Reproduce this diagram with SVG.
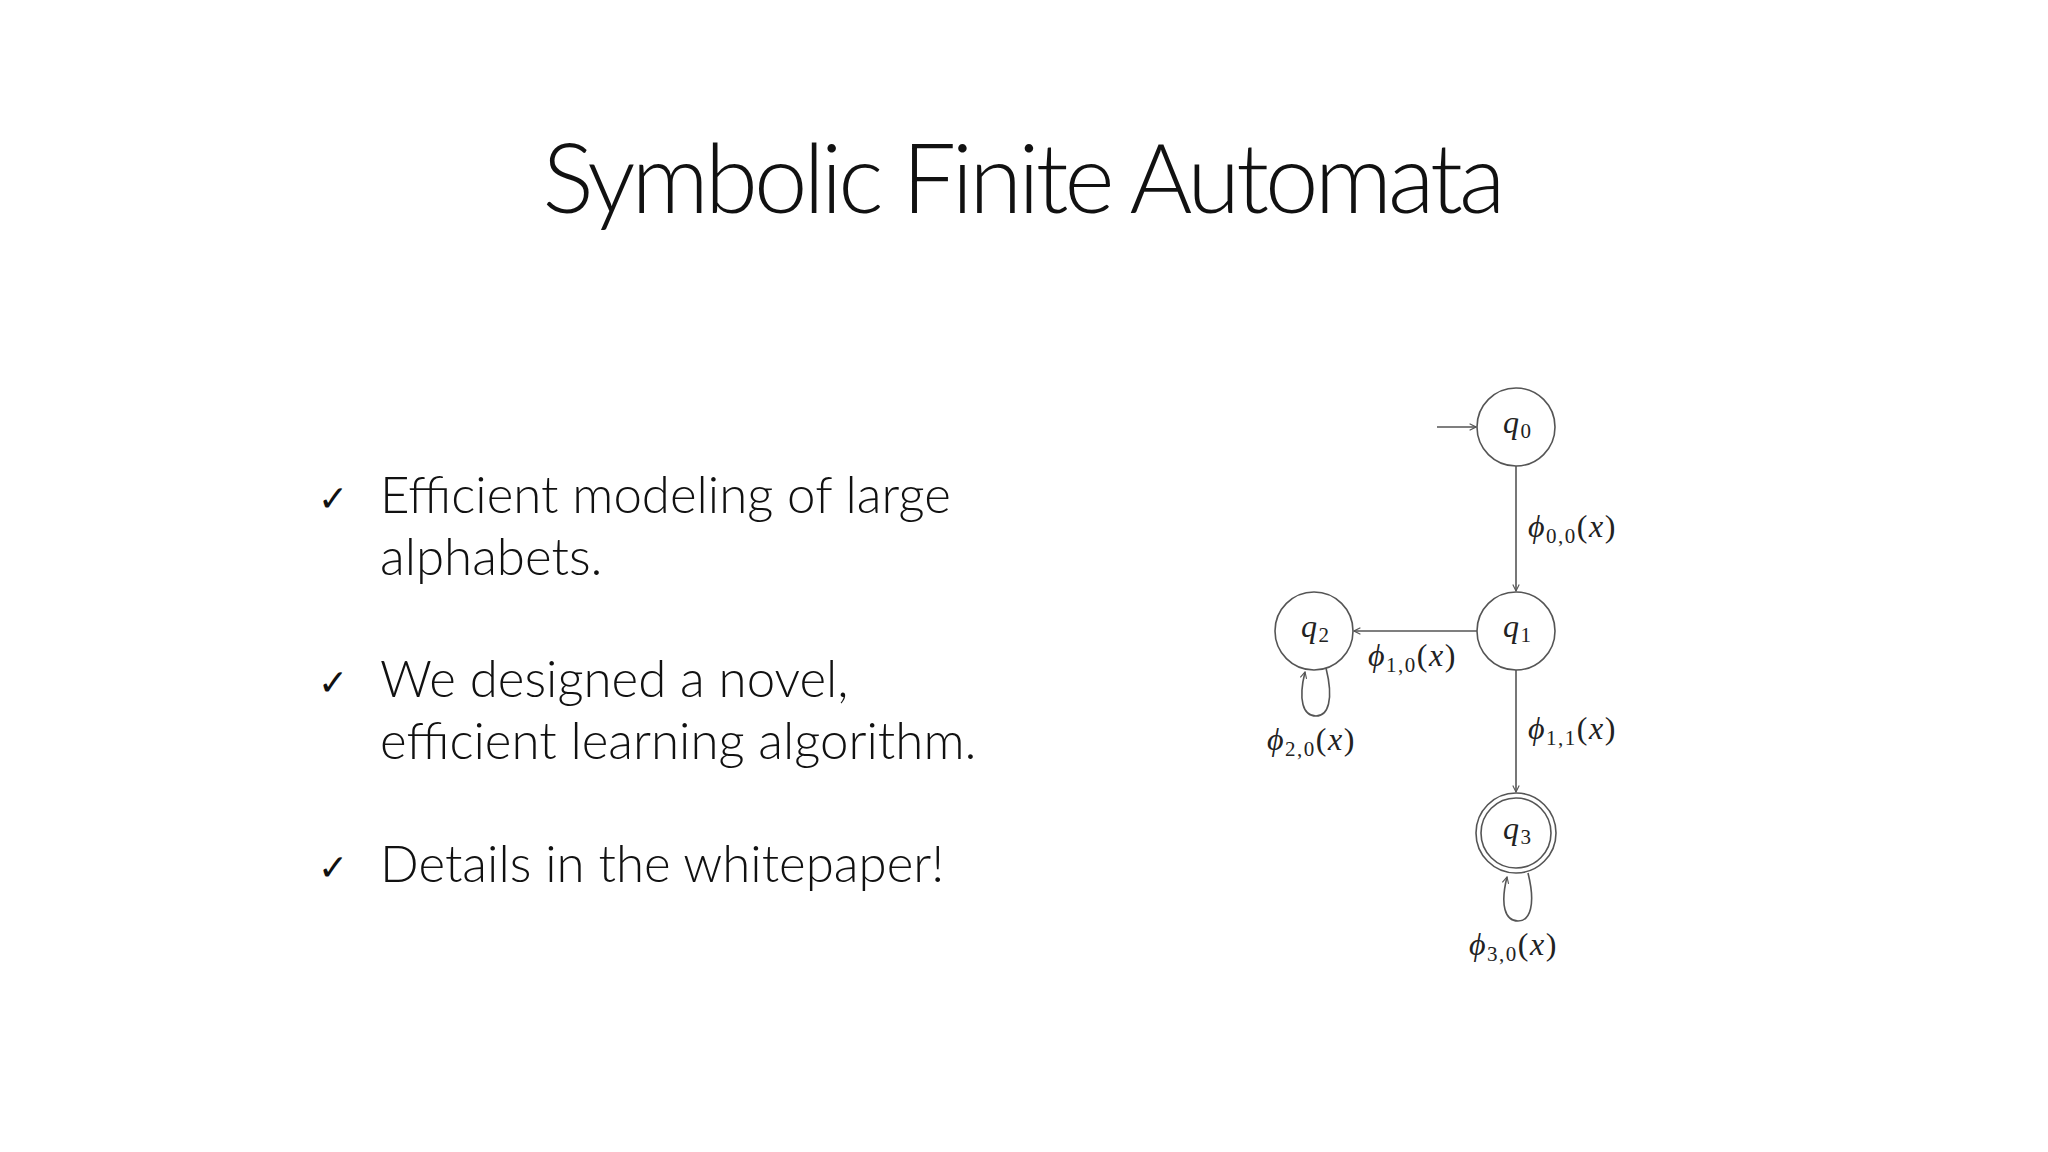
<svg xmlns="http://www.w3.org/2000/svg" width="2048" height="1152" viewBox="0 0 2048 1152">
<style>
.t{font-family:Lato,"Liberation Sans",sans-serif;font-weight:300;fill:#111}
.b{font-size:51px}
.c{font-size:36px}
.m{font-family:"Liberation Serif","DejaVu Serif",serif;fill:#222;font-size:32px;letter-spacing:1.5px}
.i{font-style:italic}
.s{font-size:21px}
.st{fill:#fff;stroke:#555;stroke-width:1.6}
.e{fill:none;stroke:#555;stroke-width:1.6}
</style>
<defs><marker id="ah" viewBox="0 0 10 10" refX="9" refY="5" markerWidth="8" markerHeight="8" orient="auto" markerUnits="userSpaceOnUse"><path d="M1,1 L9,5 L1,9" fill="none" stroke="#555" stroke-width="1.4"/></marker></defs>
<rect width="2048" height="1152" fill="#fff"/>
<text class="t" x="1024" y="213" font-size="96" text-anchor="middle" textLength="963">Symbolic Finite Automata</text>
<g id="bullets">
<text class="t c" x="318" y="511">✓</text>
<text class="t b" x="380" y="513">Efficient modeling of large</text>
<text class="t b" x="380" y="575">alphabets.</text>
<text class="t c" x="318" y="695">✓</text>
<text class="t b" x="380" y="697">We designed a novel,</text>
<text class="t b" x="380" y="759">efficient learning algorithm.</text>
<text class="t c" x="318" y="880">✓</text>
<text class="t b" x="380" y="882">Details in the whitepaper!</text>
</g>
<g id="connectors">
<line class="e" x1="1437" y1="427" x2="1476" y2="427" marker-end="url(#ah)"/>
<line class="e" x1="1516" y1="466" x2="1516" y2="591" marker-end="url(#ah)"/>
<line class="e" x1="1477" y1="631" x2="1354" y2="631" marker-end="url(#ah)"/>
<line class="e" x1="1516" y1="670" x2="1516" y2="792" marker-end="url(#ah)"/>
<path class="e" d="M1326,668 C1334,700 1328,716 1316,716 C1303,716 1298,700 1305,672" marker-end="url(#ah)"/>
<path class="e" d="M1528,873 C1536,905 1530,921 1518,921 C1505,921 1500,905 1507,877" marker-end="url(#ah)"/>
<text class="m" x="1528" y="537"><tspan class="i">ϕ</tspan><tspan class="s" dy="6">0,0</tspan><tspan dy="-6">(</tspan><tspan class="i">x</tspan>)</text>
<text class="m" x="1368" y="666"><tspan class="i">ϕ</tspan><tspan class="s" dy="6">1,0</tspan><tspan dy="-6">(</tspan><tspan class="i">x</tspan>)</text>
<text class="m" x="1528" y="739"><tspan class="i">ϕ</tspan><tspan class="s" dy="6">1,1</tspan><tspan dy="-6">(</tspan><tspan class="i">x</tspan>)</text>
<text class="m" x="1267" y="750"><tspan class="i">ϕ</tspan><tspan class="s" dy="6">2,0</tspan><tspan dy="-6">(</tspan><tspan class="i">x</tspan>)</text>
<text class="m" x="1469" y="955"><tspan class="i">ϕ</tspan><tspan class="s" dy="6">3,0</tspan><tspan dy="-6">(</tspan><tspan class="i">x</tspan>)</text>
</g>
<g id="q0"><circle class="st" cx="1516" cy="427" r="39"/><text class="m" x="1503" y="433"><tspan class="i">q</tspan><tspan class="s" dy="5">0</tspan></text></g>
<g id="q1"><circle class="st" cx="1516" cy="631" r="39"/><text class="m" x="1503" y="637"><tspan class="i">q</tspan><tspan class="s" dy="5">1</tspan></text></g>
<g id="q2"><circle class="st" cx="1314" cy="631" r="39"/><text class="m" x="1301" y="637"><tspan class="i">q</tspan><tspan class="s" dy="5">2</tspan></text></g>
<g id="q3"><circle class="st" cx="1516" cy="833" r="40"/><circle class="e" cx="1516" cy="833" r="35"/><text class="m" x="1503" y="839"><tspan class="i">q</tspan><tspan class="s" dy="5">3</tspan></text></g>
</svg>
